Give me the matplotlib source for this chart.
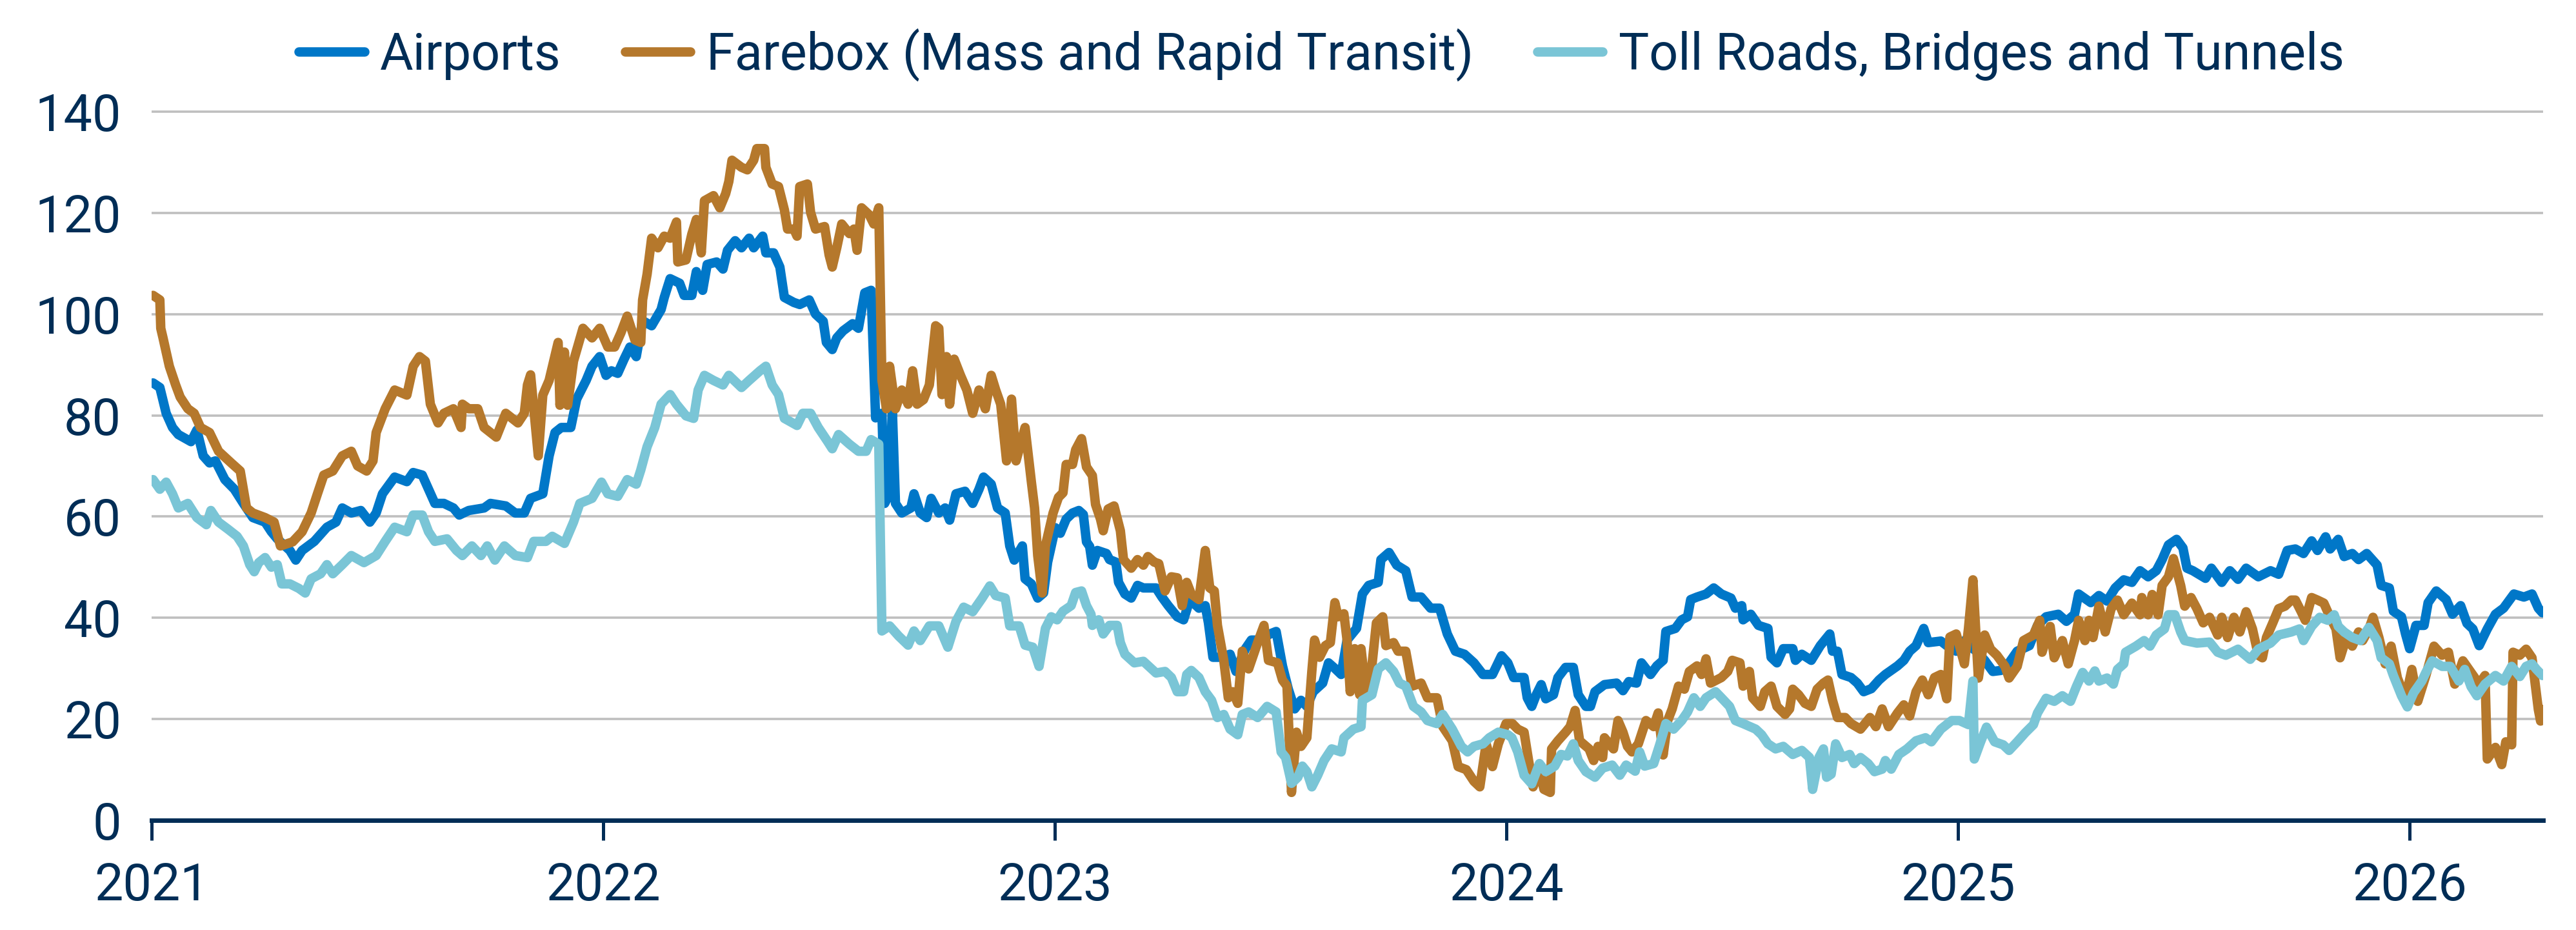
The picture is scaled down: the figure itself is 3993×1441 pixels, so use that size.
import matplotlib
matplotlib.use("Agg")
import matplotlib.pyplot as plt

# Series, time as decimal years
airports_t = [2021.003, 2021.018, 2021.032, 2021.046, 2021.059, 2021.087, 2021.100, 2021.114, 2021.128, 2021.141,
              2021.162, 2021.183, 2021.203, 2021.224, 2021.251, 2021.265, 2021.278, 2021.306, 2021.319, 2021.333,
              2021.360, 2021.388, 2021.408, 2021.422, 2021.442, 2021.463, 2021.483, 2021.497, 2021.511, 2021.538,
              2021.565, 2021.579, 2021.599, 2021.613, 2021.627, 2021.647, 2021.668, 2021.681, 2021.702, 2021.736,
              2021.750, 2021.784, 2021.805, 2021.825, 2021.839, 2021.866, 2021.880, 2021.893, 2021.907, 2021.928,
              2021.941, 2021.962, 2021.975, 2021.992, 2022.006,
              2022.018, 2022.032, 2022.046, 2022.059, 2022.073, 2022.087, 2022.107, 2022.128, 2022.135, 2022.148,
              2022.169, 2022.179, 2022.196, 2022.206, 2022.220, 2022.230, 2022.251, 2022.265, 2022.275, 2022.292,
              2022.306, 2022.323, 2022.333, 2022.353, 2022.360, 2022.377, 2022.391, 2022.401, 2022.422, 2022.435,
              2022.456, 2022.470, 2022.487, 2022.494, 2022.507, 2022.517, 2022.531, 2022.552, 2022.565, 2022.579,
              2022.593, 2022.603, 2022.617, 2022.623, 2022.634, 2022.640, 2022.647, 2022.661, 2022.681, 2022.688,
              2022.702, 2022.716, 2022.726, 2022.743, 2022.757, 2022.767, 2022.781, 2022.801, 2022.818, 2022.832,
              2022.842, 2022.859, 2022.873, 2022.890, 2022.900, 2022.910, 2022.928, 2022.934, 2022.948, 2022.962,
              2022.975, 2022.984, 2022.991,
              2023.001, 2023.012, 2023.025, 2023.039, 2023.053, 2023.063, 2023.070, 2023.077, 2023.083, 2023.094,
              2023.114, 2023.121, 2023.135, 2023.141, 2023.155, 2023.169, 2023.183, 2023.196, 2023.224, 2023.237,
              2023.251, 2023.271, 2023.285, 2023.299, 2023.319, 2023.333, 2023.340, 2023.350, 2023.367, 2023.388,
              2023.401, 2023.422, 2023.435, 2023.456, 2023.476, 2023.490, 2023.504, 2023.517, 2023.531, 2023.545,
              2023.558, 2023.572, 2023.593, 2023.606, 2023.620, 2023.634, 2023.647, 2023.668, 2023.681, 2023.695,
              2023.716, 2023.722, 2023.740, 2023.757, 2023.777, 2023.791, 2023.811, 2023.832, 2023.852, 2023.869,
              2023.887, 2023.907, 2023.928, 2023.948, 2023.969, 2023.989, 2024.003, 2024.016,
              2024.025, 2024.039, 2024.046, 2024.056, 2024.066, 2024.077, 2024.087, 2024.104, 2024.114, 2024.131,
              2024.148, 2024.159, 2024.176, 2024.186, 2024.196, 2024.217, 2024.244, 2024.258, 2024.271, 2024.288,
              2024.299, 2024.319, 2024.333, 2024.347, 2024.353, 2024.374, 2024.388, 2024.401, 2024.408, 2024.422,
              2024.442, 2024.459, 2024.476, 2024.497, 2024.507, 2024.521, 2024.524, 2024.541, 2024.558, 2024.579,
              2024.586, 2024.599, 2024.613, 2024.634, 2024.640, 2024.654, 2024.675, 2024.695, 2024.716, 2024.722,
              2024.733, 2024.743, 2024.763, 2024.777, 2024.791, 2024.808, 2024.825, 2024.839, 2024.866, 2024.880,
              2024.893, 2024.907, 2024.924, 2024.934, 2024.962, 2024.975, 2024.996, 2025.016,
              2025.023, 2025.041, 2025.059, 2025.077, 2025.095, 2025.113, 2025.131, 2025.158, 2025.176, 2025.195,
              2025.222, 2025.240, 2025.258, 2025.267, 2025.294, 2025.312, 2025.330, 2025.348, 2025.367, 2025.385,
              2025.403, 2025.421, 2025.439, 2025.452, 2025.466, 2025.484, 2025.498, 2025.507, 2025.520, 2025.548,
              2025.561, 2025.584, 2025.602, 2025.620, 2025.638, 2025.665, 2025.692, 2025.710, 2025.729, 2025.747,
              2025.765, 2025.783, 2025.796, 2025.814, 2025.824, 2025.842, 2025.855, 2025.873, 2025.887, 2025.905,
              2025.928, 2025.937, 2025.955, 2025.964, 2025.982, 2025.991, 2026.000, 2026.014, 2026.032, 2026.041,
              2026.059, 2026.081, 2026.095, 2026.113, 2026.127, 2026.140, 2026.154, 2026.172, 2026.190, 2026.208,
              2026.231, 2026.253, 2026.271, 2026.285, 2026.294]
airports_v = [86.4, 85.5, 80.4, 77.6, 76.2, 74.8, 77.1, 72.0, 70.6, 71.0,
              67.3, 65.4, 62.6, 59.8, 58.9, 57.0, 55.6, 53.3, 51.4, 53.3,
              55.1, 57.9, 58.9, 61.7, 60.7, 61.2, 58.9, 60.7, 64.5, 67.8,
              66.9, 68.7, 68.2, 65.4, 62.6, 62.6, 61.7, 60.3, 61.2, 61.7,
              62.6, 62.1, 60.7, 60.7, 63.6, 64.5, 72.0, 76.6, 77.6, 77.6,
              83.2, 86.9, 89.7, 91.6, 87.9,
              88.8, 88.3, 91.1, 93.5, 91.6, 98.7, 97.7, 100.9, 103.3, 107.0,
              106.1, 103.7, 103.7, 108.4, 104.7, 109.8, 110.3, 108.9, 112.6, 114.5,
              113.1, 115.0, 113.1, 115.4, 112.1, 112.1, 109.3, 103.3, 102.3, 101.9,
              102.8, 100.0, 98.6, 94.4, 93.0, 95.3, 96.7, 98.1, 97.2, 104.2,
              104.7, 79.5, 80.4, 62.6, 64.5, 81.3, 62.6, 60.7, 61.7, 64.5,
              60.7, 59.8, 63.6, 60.7, 61.7, 59.3, 64.5, 65.0, 62.6, 65.4,
              67.8, 66.4, 61.7, 60.7, 54.2, 51.4, 54.2, 47.7, 46.7, 43.9,
              44.9, 51.0, 53.8,
              57.8, 56.7, 59.5, 60.7, 61.2, 60.4, 55.0, 54.1, 50.4, 53.3,
              52.7, 51.5, 51.0, 47.0, 44.7, 43.9, 46.4, 45.9, 45.9, 44.1,
              42.4, 40.2, 39.6, 43.6, 41.9, 42.4, 39.0, 32.2, 32.2, 32.8,
              29.4, 33.9, 35.6, 35.6, 36.8, 37.3, 30.5, 25.9, 22.0, 23.7,
              22.5, 25.4, 27.1, 31.1, 30.0, 28.8, 35.6, 37.9, 44.7, 46.4,
              47.0, 51.5, 52.9, 50.4, 49.3, 44.1, 44.1, 41.9, 41.9, 36.8,
              33.4, 32.8, 31.1, 28.8, 28.8, 32.5, 31.1, 28.2,
              28.2, 28.2, 24.2, 22.5, 24.8, 26.8, 24.0, 24.8, 28.2, 30.2,
              30.2, 24.8, 22.5, 22.5, 25.4, 26.8, 27.1, 25.6, 27.4, 27.1,
              31.1, 28.8, 30.5, 31.6, 37.3, 37.9, 39.6, 40.2, 43.6, 44.1,
              44.7, 45.9, 44.7, 43.9, 41.9, 42.4, 39.6, 40.7, 38.5, 37.9,
              32.2, 31.1, 33.9, 33.9, 31.6, 32.8, 31.6, 34.5, 36.8, 33.4,
              33.4, 28.8, 28.2, 27.1, 25.4, 26.0, 27.7, 28.8, 30.5, 31.6,
              33.4, 34.5, 37.9, 35.1, 35.4, 34.5, 33.4, 35.6,
              34.5, 33.4, 31.6, 29.4, 29.6, 31.1, 33.4, 34.5, 38.5, 40.2,
              40.7, 39.3, 40.7, 44.7, 43.0, 44.4, 43.3, 45.9, 47.5, 47.0,
              49.3, 48.1, 49.3, 51.5, 54.4, 55.5, 53.8, 49.8, 49.3, 47.8,
              49.8, 47.0, 49.3, 47.6, 49.8, 48.1, 49.3, 48.6, 53.3, 53.6,
              52.7, 55.2, 53.3, 56.0, 53.6, 55.5, 52.1, 52.7, 51.5, 52.7,
              50.4, 46.4, 45.9, 41.3, 40.2, 36.8, 33.9, 38.5, 38.5, 43.0,
              45.3, 43.6, 40.7, 42.4, 38.9, 37.8, 34.5, 37.8, 40.7, 41.9,
              44.7, 44.1, 44.7, 41.9, 41.0]

farebox_t = [2021.003, 2021.018, 2021.020, 2021.025, 2021.039, 2021.053, 2021.063, 2021.080, 2021.094, 2021.108,
             2021.128, 2021.148, 2021.176, 2021.196, 2021.210, 2021.224, 2021.251, 2021.271, 2021.285, 2021.312,
             2021.333, 2021.353, 2021.367, 2021.381, 2021.401, 2021.422, 2021.442, 2021.456, 2021.476, 2021.490,
             2021.497, 2021.517, 2021.538, 2021.565, 2021.579, 2021.593, 2021.606, 2021.617, 2021.634, 2021.647,
             2021.668, 2021.685, 2021.688, 2021.702, 2021.722, 2021.736, 2021.763, 2021.784, 2021.811, 2021.825,
             2021.832, 2021.839, 2021.856, 2021.866, 2021.880, 2021.900, 2021.904, 2021.914, 2021.921, 2021.934,
             2021.955, 2021.975, 2021.992, 2022.010,
             2022.025, 2022.039, 2022.053, 2022.070, 2022.083, 2022.087, 2022.097, 2022.107, 2022.121, 2022.135,
             2022.148, 2022.162, 2022.165, 2022.183, 2022.196, 2022.206, 2022.217, 2022.224, 2022.244, 2022.258,
             2022.271, 2022.278, 2022.285, 2022.306, 2022.319, 2022.333, 2022.340, 2022.357, 2022.360, 2022.374,
             2022.388, 2022.401, 2022.408, 2022.422, 2022.429, 2022.435, 2022.452, 2022.459, 2022.470, 2022.490,
             2022.500, 2022.507, 2022.517, 2022.528, 2022.545, 2022.555, 2022.562, 2022.572, 2022.589, 2022.599,
             2022.610, 2022.617, 2022.627, 2022.634, 2022.647, 2022.661, 2022.675, 2022.685, 2022.695, 2022.709,
             2022.722, 2022.736, 2022.743, 2022.750, 2022.760, 2022.767, 2022.777, 2022.791, 2022.805, 2022.818,
             2022.832, 2022.846, 2022.859, 2022.869, 2022.880, 2022.893, 2022.904, 2022.914, 2022.934, 2022.948,
             2022.955, 2022.962, 2022.972, 2022.979, 2022.996,
             2023.008, 2023.018, 2023.025, 2023.039, 2023.046, 2023.059, 2023.070, 2023.083, 2023.090, 2023.101,
             2023.107, 2023.118, 2023.131, 2023.145, 2023.152, 2023.169, 2023.183, 2023.196, 2023.206, 2023.220,
             2023.230, 2023.244, 2023.258, 2023.271, 2023.282, 2023.292, 2023.302, 2023.319, 2023.333, 2023.343,
             2023.353, 2023.360, 2023.374, 2023.384, 2023.394, 2023.405, 2023.415, 2023.429, 2023.449, 2023.463,
             2023.473, 2023.493, 2023.504, 2023.514, 2023.524, 2023.535, 2023.545, 2023.558, 2023.569, 2023.575,
             2023.586, 2023.599, 2023.610, 2023.620, 2023.627, 2023.640, 2023.647, 2023.654, 2023.664, 2023.675,
             2023.678, 2023.688, 2023.702, 2023.712, 2023.726, 2023.733, 2023.750, 2023.760, 2023.777, 2023.791,
             2023.811, 2023.825, 2023.846, 2023.859, 2023.880, 2023.893, 2023.911, 2023.928, 2023.941, 2023.955,
             2023.969, 2023.982, 2023.999, 2024.013,
             2024.025, 2024.039, 2024.049, 2024.059, 2024.073, 2024.083, 2024.097, 2024.100, 2024.114, 2024.131,
             2024.141, 2024.152, 2024.162, 2024.183, 2024.193, 2024.203, 2024.213, 2024.217, 2024.237, 2024.247,
             2024.258, 2024.268, 2024.278, 2024.292, 2024.309, 2024.326, 2024.336, 2024.347, 2024.357, 2024.367,
             2024.381, 2024.394, 2024.405, 2024.422, 2024.432, 2024.442, 2024.452, 2024.476, 2024.490, 2024.500,
             2024.517, 2024.524, 2024.538, 2024.545, 2024.562, 2024.572, 2024.586, 2024.599, 2024.617, 2024.627,
             2024.634, 2024.647, 2024.661, 2024.675, 2024.688, 2024.702, 2024.712, 2024.722, 2024.733, 2024.750,
             2024.763, 2024.784, 2024.805, 2024.818, 2024.832, 2024.846, 2024.866, 2024.880, 2024.893, 2024.907,
             2024.921, 2024.934, 2024.948, 2024.962, 2024.975, 2024.982, 2024.996,
             2025.014, 2025.023, 2025.033, 2025.045, 2025.059, 2025.072, 2025.086, 2025.104, 2025.113, 2025.131,
             2025.145, 2025.167, 2025.181, 2025.186, 2025.204, 2025.213, 2025.231, 2025.244, 2025.258, 2025.267,
             2025.281, 2025.290, 2025.299, 2025.312, 2025.326, 2025.339, 2025.353, 2025.367, 2025.385, 2025.403,
             2025.407, 2025.421, 2025.430, 2025.443, 2025.452, 2025.466, 2025.477, 2025.493, 2025.502, 2025.516,
             2025.529, 2025.543, 2025.557, 2025.575, 2025.584, 2025.597, 2025.611, 2025.624, 2025.638, 2025.652,
             2025.665, 2025.674, 2025.683, 2025.697, 2025.710, 2025.724, 2025.738, 2025.747, 2025.760, 2025.769,
             2025.783, 2025.796, 2025.810, 2025.824, 2025.837, 2025.846, 2025.860, 2025.873, 2025.887, 2025.896,
             2025.910, 2025.919, 2025.932, 2025.946, 2025.959, 2025.973, 2025.991, 2026.005, 2026.018, 2026.036,
             2026.054, 2026.072, 2026.086, 2026.100, 2026.118, 2026.136, 2026.154, 2026.167, 2026.172, 2026.190,
             2026.204, 2026.213, 2026.226, 2026.229, 2026.244, 2026.258, 2026.271, 2026.285, 2026.290, 2026.294]
farebox_v = [103.7, 102.8, 97.2, 95.3, 89.7, 86.0, 83.6, 81.3, 80.4, 77.6,
             76.6, 72.9, 70.6, 69.0, 61.7, 60.7, 59.8, 58.9, 54.2, 55.0,
             57.0, 60.7, 64.5, 68.2, 69.0, 72.0, 72.9, 70.0, 69.0, 71.0,
             76.6, 81.3, 85.0, 84.0, 89.7, 91.6, 90.7, 82.2, 78.5, 80.4,
             81.3, 77.6, 82.2, 81.3, 81.3, 77.6, 75.7, 80.4, 78.5, 80.4,
             86.0, 88.0, 72.0, 84.0, 86.9, 94.4, 82.0, 92.5, 82.0, 90.7,
             97.2, 95.3, 97.2, 93.5,
             93.5, 96.3, 99.6, 94.9, 94.4, 102.8, 107.9, 115.0, 113.1, 115.4,
             115.0, 118.2, 110.3, 110.7, 115.8, 118.7, 112.1, 122.4, 123.4, 121.0,
             123.8, 126.2, 130.4, 129.0, 128.5, 130.4, 132.7, 132.7, 129.0, 125.7,
             125.2, 120.6, 116.8, 116.8, 115.4, 125.2, 125.7, 120.1, 116.8, 117.3,
             111.7, 109.3, 113.1, 117.8, 115.9, 116.8, 112.6, 121.0, 119.6, 117.8,
             121.0, 86.9, 81.3, 89.7, 81.3, 85.0, 82.2, 88.8, 82.2, 83.1,
             86.0, 97.7, 97.2, 84.1, 91.6, 82.2, 91.1, 87.9, 85.0, 80.4,
             85.0, 81.3, 87.9, 85.0, 82.2, 71.0, 83.2, 71.0, 77.6, 66.8,
             61.7, 52.3, 44.9, 54.2, 60.7,
             63.8, 64.7, 70.3, 70.3, 73.2, 75.4, 69.8, 68.1, 62.4, 59.5,
             57.2, 61.5, 62.1, 57.2, 51.5, 49.8, 51.5, 50.4, 52.1, 51.0,
             50.7, 45.3, 48.1, 47.9, 42.4, 47.0, 44.7, 43.6, 53.3, 45.9,
             45.3, 38.5, 31.6, 24.2, 25.4, 23.1, 33.4, 29.9, 35.1, 38.5,
             31.6, 31.1, 27.7, 26.5, 5.5, 17.4, 14.6, 16.3, 29.4, 35.6,
             32.2, 34.5, 35.1, 43.0, 40.2, 40.8, 35.6, 25.4, 33.9, 24.8,
             33.9, 25.9, 30.5, 39.0, 40.2, 34.5, 35.1, 33.4, 33.4, 26.5,
             27.1, 24.2, 24.2, 18.5, 15.7, 10.6, 10.0, 7.7, 6.6, 15.1,
             10.6, 15.1, 19.1, 19.1,
             18.0, 17.4, 11.8, 6.6, 10.0, 6.1, 5.5, 14.1, 15.7, 17.4,
             18.5, 21.7, 15.7, 14.1, 11.8, 14.6, 12.4, 16.3, 14.1, 19.7,
             17.4, 14.6, 13.5, 15.1, 19.7, 18.5, 21.2, 12.9, 19.7, 22.0,
             26.5, 25.9, 29.4, 30.5, 28.8, 31.9, 27.1, 28.2, 29.4, 31.6,
             31.1, 26.5, 29.4, 24.2, 22.5, 25.4, 26.5, 22.5, 20.9, 22.0,
             25.9, 24.8, 23.1, 22.5, 25.9, 27.1, 27.7, 23.7, 20.3, 20.3,
             19.1, 18.0, 20.3, 18.5, 22.0, 18.5, 21.2, 22.8, 20.6, 25.4,
             27.7, 24.8, 28.2, 28.8, 24.0, 36.2, 36.8,
             30.9, 37.8, 47.5, 28.1, 36.6, 33.8, 32.6, 30.4, 28.1, 30.4,
             35.5, 36.6, 39.5, 33.2, 38.3, 32.1, 35.5, 30.9, 35.5, 39.5,
             35.5, 39.5, 36.1, 42.3, 37.2, 41.8, 43.5, 40.6, 42.9, 40.6,
             44.0, 40.6, 44.6, 40.6, 46.4, 48.1, 51.7, 46.4, 42.3, 44.0,
             41.8, 39.0, 40.1, 36.6, 40.1, 36.1, 40.1, 37.2, 41.2, 37.8,
             32.6, 32.1, 36.1, 39.0, 41.8, 42.3, 43.5, 43.5, 41.2, 39.5,
             44.0, 43.5, 42.9, 40.1, 37.8, 32.1, 36.1, 34.4, 37.2, 35.5,
             37.8, 40.1, 36.1, 30.9, 34.4, 28.1, 24.1, 29.8, 23.5, 28.6,
             34.4, 32.6, 33.2, 26.9, 31.5, 29.2, 26.9, 28.6, 12.1, 14.4,
             11.0, 15.5, 14.9, 33.2, 32.6, 33.8, 32.1, 21.9, 19.6, 21.9]

toll_t = [2021.003, 2021.018, 2021.032, 2021.046, 2021.059, 2021.080, 2021.100, 2021.121, 2021.131, 2021.148,
          2021.169, 2021.189, 2021.203, 2021.217, 2021.227, 2021.237, 2021.251, 2021.265, 2021.278, 2021.288,
          2021.306, 2021.326, 2021.340, 2021.353, 2021.374, 2021.388, 2021.401, 2021.422, 2021.442, 2021.470,
          2021.497, 2021.517, 2021.538, 2021.565, 2021.579, 2021.599, 2021.613, 2021.627, 2021.654, 2021.675,
          2021.688, 2021.709, 2021.729, 2021.743, 2021.760, 2021.781, 2021.805, 2021.832, 2021.846, 2021.873,
          2021.887, 2021.914, 2021.934, 2021.948, 2021.975, 2021.996, 2022.010,
          2022.032, 2022.053, 2022.073, 2022.083, 2022.097, 2022.114, 2022.128, 2022.148, 2022.162, 2022.183,
          2022.200, 2022.210, 2022.224, 2022.244, 2022.265, 2022.278, 2022.306, 2022.323, 2022.347, 2022.360,
          2022.374, 2022.388, 2022.401, 2022.429, 2022.442, 2022.459, 2022.476, 2022.497, 2022.507, 2022.521,
          2022.545, 2022.565, 2022.582, 2022.593, 2022.610, 2022.617, 2022.634, 2022.654, 2022.675, 2022.688,
          2022.702, 2022.722, 2022.743, 2022.763, 2022.781, 2022.798, 2022.818, 2022.839, 2022.856, 2022.869,
          2022.890, 2022.900, 2022.921, 2022.934, 2022.951, 2022.965, 2022.979, 2022.992,
          2023.005, 2023.018, 2023.036, 2023.046, 2023.059, 2023.070, 2023.080, 2023.083, 2023.097, 2023.107,
          2023.121, 2023.138, 2023.145, 2023.155, 2023.176, 2023.196, 2023.224, 2023.244, 2023.258, 2023.271,
          2023.285, 2023.292, 2023.302, 2023.319, 2023.333, 2023.347, 2023.360, 2023.374, 2023.388, 2023.405,
          2023.415, 2023.429, 2023.449, 2023.470, 2023.490, 2023.501, 2023.511, 2023.524, 2023.538, 2023.548,
          2023.558, 2023.569, 2023.582, 2023.596, 2023.613, 2023.634, 2023.640, 2023.661, 2023.678, 2023.681,
          2023.702, 2023.716, 2023.733, 2023.750, 2023.763, 2023.777, 2023.794, 2023.811, 2023.825, 2023.846,
          2023.859, 2023.880, 2023.900, 2023.914, 2023.928, 2023.948, 2023.962, 2023.982, 2024.003,
          2024.012, 2024.025, 2024.039, 2024.056, 2024.073, 2024.087, 2024.107, 2024.121, 2024.135, 2024.148,
          2024.159, 2024.176, 2024.196, 2024.213, 2024.234, 2024.251, 2024.265, 2024.285, 2024.295, 2024.306,
          2024.326, 2024.340, 2024.353, 2024.370, 2024.388, 2024.401, 2024.415, 2024.429, 2024.442, 2024.463,
          2024.476, 2024.494, 2024.507, 2024.524, 2024.552, 2024.565, 2024.579, 2024.596, 2024.613, 2024.634,
          2024.654, 2024.671, 2024.678, 2024.692, 2024.702, 2024.709, 2024.719, 2024.729, 2024.743, 2024.760,
          2024.770, 2024.784, 2024.801, 2024.815, 2024.832, 2024.839, 2024.852, 2024.869, 2024.887, 2024.907,
          2024.928, 2024.941, 2024.962, 2024.986, 2025.003,
          2025.023, 2025.033, 2025.036, 2025.050, 2025.063, 2025.081, 2025.100, 2025.113, 2025.131, 2025.149,
          2025.167, 2025.176, 2025.195, 2025.213, 2025.231, 2025.249, 2025.262, 2025.276, 2025.290, 2025.303,
          2025.312, 2025.330, 2025.344, 2025.353, 2025.367, 2025.371, 2025.394, 2025.412, 2025.425, 2025.439,
          2025.457, 2025.466, 2025.480, 2025.493, 2025.502, 2025.529, 2025.557, 2025.575, 2025.593, 2025.620,
          2025.647, 2025.665, 2025.692, 2025.710, 2025.738, 2025.756, 2025.765, 2025.783, 2025.801, 2025.819,
          2025.833, 2025.842, 2025.855, 2025.873, 2025.891, 2025.910, 2025.928, 2025.937, 2025.955, 2025.964,
          2025.982, 2025.995, 2026.009, 2026.027, 2026.036, 2026.050, 2026.072, 2026.090, 2026.109, 2026.122,
          2026.136, 2026.149, 2026.167, 2026.190, 2026.208, 2026.226, 2026.244, 2026.258, 2026.271, 2026.281,
          2026.294]
toll_v = [67.3, 65.4, 66.8, 64.5, 61.7, 62.6, 59.8, 58.4, 61.2, 58.9,
          57.5, 56.1, 54.2, 50.5, 49.1, 50.9, 51.9, 50.0, 50.5, 46.7,
          46.7, 45.8, 44.9, 47.7, 48.7, 50.5, 48.7, 50.5, 52.3, 50.9,
          52.3, 55.1, 57.9, 57.0, 60.3, 60.3, 57.0, 55.1, 55.6, 53.3,
          52.3, 54.2, 52.3, 54.2, 51.4, 54.2, 52.3, 51.9, 55.1, 55.1,
          56.1, 54.7, 58.9, 62.6, 63.6, 66.8, 64.5,
          64.0, 67.3, 66.4, 69.2, 73.8, 77.6, 82.2, 84.1, 82.2, 79.9,
          79.4, 85.0, 87.9, 86.9, 86.0, 87.9, 85.5, 86.9, 88.8, 89.7,
          86.0, 84.1, 79.4, 78.0, 80.4, 80.4, 77.6, 74.8, 73.4, 76.2,
          74.3, 72.9, 72.9, 75.2, 74.3, 37.4, 38.4, 36.4, 34.6, 37.4,
          35.5, 38.4, 38.4, 34.2, 39.3, 42.1, 41.2, 43.9, 46.3, 44.4,
          43.9, 38.4, 38.4, 34.6, 34.2, 30.4, 37.9, 40.2,
          39.6, 41.3, 42.4, 45.0, 45.3, 42.4, 40.7, 38.5, 39.6, 36.8,
          38.5, 38.5, 35.1, 32.8, 31.1, 31.4, 29.1, 29.4, 28.2, 25.4,
          25.4, 28.8, 29.6, 28.2, 25.4, 23.7, 20.3, 20.9, 18.0, 16.9,
          20.9, 21.4, 20.3, 22.5, 21.4, 13.5, 12.4, 7.3, 8.5, 10.7,
          9.6, 6.6, 8.9, 11.8, 14.1, 13.5, 16.3, 18.0, 18.5, 23.7,
          24.8, 29.9, 31.1, 29.4, 27.1, 26.5, 22.5, 21.4, 19.7, 19.1,
          20.9, 18.0, 14.6, 13.5, 14.6, 15.1, 16.3, 17.4, 16.9,
          16.3, 13.5, 8.9, 7.2, 11.2, 9.6, 10.7, 13.0, 12.7, 15.1,
          11.8, 9.6, 8.5, 10.3, 10.9, 8.9, 10.9, 9.7, 13.5, 10.7,
          11.2, 15.1, 19.1, 18.0, 19.7, 21.4, 24.2, 22.5, 24.2, 25.4,
          24.2, 22.5, 19.7, 19.1, 18.0, 16.9, 15.1, 14.1, 14.6, 13.0,
          13.8, 12.4, 6.1, 12.4, 14.1, 8.5, 9.1, 15.1, 12.4, 13.0,
          11.2, 12.4, 11.2, 9.6, 10.1, 11.8, 10.1, 13.0, 14.1, 15.7,
          16.3, 15.5, 18.0, 19.7, 19.7,
          18.9, 27.5, 12.1, 15.5, 18.4, 15.5, 14.9, 13.8, 15.5, 17.3,
          18.9, 21.2, 24.1, 23.5, 24.6, 23.5, 26.4, 29.2, 27.5, 29.5,
          27.5, 28.1, 26.9, 29.8, 30.9, 33.2, 34.4, 35.5, 34.4, 36.6,
          37.8, 40.6, 40.6, 37.2, 35.5, 35.0, 35.2, 33.2, 32.6, 33.8,
          31.8, 33.8, 35.0, 36.6, 37.2, 37.8, 35.5, 38.3, 40.1, 39.5,
          40.6, 38.3, 37.2, 36.1, 35.5, 38.1, 35.5, 32.1, 30.9, 28.6,
          24.6, 22.4, 25.2, 27.5, 29.2, 31.5, 30.4, 30.4, 27.5, 29.8,
          26.4, 24.6, 26.9, 28.6, 27.5, 30.4, 28.4, 30.4, 30.9, 29.8,
          28.6]

series_names = ["Airports", "Farebox (Mass and Rapid Transit)", "Toll Roads, Bridges and Tunnels"]
series_colors = ["#0077C8", "#B5782C", "#7AC5D6"]
year_ticks = [2021, 2022, 2023, 2024, 2025, 2026]
value_ticks = [0, 20, 40, 60, 80, 100, 120, 140]

navy = "#002D56"
plt.rcParams["font.family"] = ["Roboto", "DejaVu Sans"]

fig = plt.figure(figsize=(39.93, 14.41), dpi=100)
ax = fig.add_axes([0.0589, 0.1180, 0.9284, 0.7674])

for t, v, name, col in zip([airports_t, farebox_t, toll_t], [airports_v, farebox_v, toll_v],
                           series_names, series_colors):
    ax.plot(t, v, color=col, lw=10.5, label=name, solid_joinstyle="round", solid_capstyle="round")

ax.set_xlim(2021, 2026.296)
ax.set_ylim(0, 141)
ax.set_xticks(year_ticks)
ax.set_xticklabels([str(y) for y in year_ticks])
ax.set_yticks(value_ticks)

ax.yaxis.grid(True, color="#BFBFBF", lw=2.6)
ax.set_axisbelow(True)
for s in ["top", "right", "left"]:
    ax.spines[s].set_visible(False)
ax.spines["bottom"].set_color(navy)
ax.spines["bottom"].set_linewidth(5)
ax.spines["bottom"].set_zorder(5)

ax.tick_params(axis="x", length=22, width=3.6, color=navy, labelsize=57, labelcolor=navy, pad=24)
ax.tick_params(axis="y", length=0, labelsize=57, labelcolor=navy, pad=34)

leg = fig.legend(loc="center", bbox_to_anchor=(0.513, 0.941), ncol=3, frameon=False,
                 fontsize=57, labelcolor=navy, handlelength=1.28, handletextpad=0.31,
                 columnspacing=1.25)
for h in leg.legend_handles:
    h.set_linewidth(10.5)
    h.set_solid_capstyle("round")

fig.savefig("out.png", dpi=100)
